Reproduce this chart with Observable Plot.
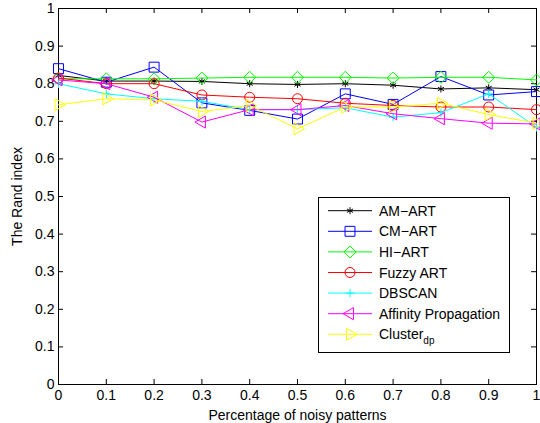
<!DOCTYPE html>
<html><head><meta charset="utf-8">
<script src="https://cdn.jsdelivr.net/npm/d3@7"></script>
<script src="https://cdn.jsdelivr.net/npm/@observablehq/plot@0.6"></script>
<style>
body{margin:0;background:#fff}
svg{font-family:"Liberation Sans",Arial,sans-serif}
</style>
</head><body><div id="chart"></div>
<script>
const noise = [0, 0.1, 0.2, 0.3, 0.4, 0.5, 0.6, 0.7, 0.8, 0.9, 1];
const amArt    = [0.822, 0.807, 0.807, 0.806, 0.800, 0.798, 0.800, 0.796, 0.786, 0.789, 0.784];
const cmArt    = [0.840, 0.804, 0.844, 0.749, 0.729, 0.706, 0.773, 0.745, 0.819, 0.770, 0.779];
const hiArt    = [0.813, 0.813, 0.813, 0.815, 0.817, 0.817, 0.817, 0.815, 0.817, 0.817, 0.810];
const fuzzyArt = [0.815, 0.800, 0.800, 0.770, 0.764, 0.760, 0.748, 0.742, 0.738, 0.738, 0.731];
const dbscan   = [0.800, 0.773, 0.760, 0.753, 0.731, 0.731, 0.736, 0.711, 0.723, 0.773, 0.684];
const affinity = [0.810, 0.800, 0.764, 0.698, 0.731, 0.731, 0.742, 0.720, 0.707, 0.695, 0.693];
const clusterDp= [0.744, 0.760, 0.757, 0.726, 0.742, 0.680, 0.738, 0.738, 0.748, 0.718, 0.695];

const seriesNames   = ["AM−ART", "CM−ART", "HI−ART", "Fuzzy ART", "DBSCAN", "Affinity Propagation", "Cluster"];
const seriesValues  = [amArt, cmArt, hiArt, fuzzyArt, dbscan, affinity, clusterDp];
const seriesColors  = ["#000000", "#0000ff", "#00ff00", "#ff0000", "#00ffff", "#ff00ff", "#ffff00"];
const seriesSymbols = ["asterisk", "square", "diamond2", "circle", "plus", "triangle", "triangle"];
const seriesRotate  = [0, 0, 0, 0, 0, -90, 90];
const seriesR       = [3.3, 5.6, 5.4, 5, 2.8, 4.5, 4.5];

const xTicks = [0, 0.1, 0.2, 0.3, 0.4, 0.5, 0.6, 0.7, 0.8, 0.9, 1];
const yTicks = [0, 0.1, 0.2, 0.3, 0.4, 0.5, 0.6, 0.7, 0.8, 0.9, 1];
const xLabel = "Percentage of noisy patterns";
const yLabel = "The Rand index";

const W = 540, H = 423;
const mL = 58, mR = 4, mT = 8, mB = 39;
const innerW = W - mL - mR, innerH = H - mT - mB;
const tk = 5;
const fs = 14;

const marks = [
  Plot.frame({stroke: "#000", strokeWidth: 1}),
  Plot.ruleX(xTicks, {x: d => d, insetTop: innerH - tk, stroke: "#000"}),
  Plot.ruleX(xTicks, {x: d => d, insetBottom: innerH - tk, stroke: "#000"}),
  Plot.ruleY(yTicks, {y: d => d, insetRight: innerW - tk, stroke: "#000"}),
  Plot.ruleY(yTicks, {y: d => d, insetLeft: innerW - tk, stroke: "#000"}),
  Plot.axisX(xTicks, {tickSize: 0, tickPadding: 6, tickFormat: d => String(d), fontSize: fs, fill: "#000",
    label: xLabel, labelAnchor: "center", labelOffset: 35, labelArrow: false}),
  Plot.axisY(yTicks, {tickSize: 0, tickPadding: 4, tickFormat: d => String(d), fontSize: fs, fill: "#000",
    label: yLabel, labelAnchor: "center", labelOffset: 46, labelArrow: false})
];

seriesValues.forEach((vals, i) => {
  const data = noise.map((x, j) => ({x, y: vals[j]}));
  marks.push(Plot.line(data, {x: "x", y: "y", stroke: seriesColors[i], strokeWidth: 1}));
  marks.push(Plot.dot(data, {x: "x", y: "y", symbol: seriesSymbols[i], r: seriesR[i],
    stroke: seriesColors[i], fill: "none", strokeWidth: 1, rotate: seriesRotate[i]}));
});

const plot = Plot.plot({
  width: W, height: H,
  marginLeft: mL, marginRight: mR, marginTop: mT, marginBottom: mB,
  style: {fontFamily: '"Liberation Sans", Arial, sans-serif', fontSize: fs + "px", background: "#fff", color: "#000"},
  x: {domain: [0, 1]},
  y: {domain: [0, 1]},
  marks
});
document.getElementById("chart").appendChild(plot);

// legend
const svg = d3.select(plot);
const lg = {x: 318, y: 197, w: 191, h: 155, rowH: 20.6, first: 13.7};
const g = svg.append("g").attr("text-anchor", "start");
g.append("rect").attr("x", lg.x + 0.5).attr("y", lg.y + 0.5).attr("width", lg.w).attr("height", lg.h)
  .attr("fill", "#fff").attr("stroke", "#000");
const symMap = {asterisk: d3.symbolAsterisk, square: d3.symbolSquare, diamond2: d3.symbolDiamond2,
  circle: d3.symbolCircle, plus: d3.symbolPlus, triangle: d3.symbolTriangle};
seriesNames.forEach((name, i) => {
  const cy = lg.y + lg.first + i * lg.rowH;
  g.append("line").attr("x1", lg.x + 10).attr("x2", lg.x + 54).attr("y1", cy).attr("y2", cy)
    .attr("stroke", seriesColors[i]);
  g.append("path").attr("d", d3.symbol(symMap[seriesSymbols[i]], Math.PI * seriesR[i] * seriesR[i])())
    .attr("transform", `translate(${lg.x + 32},${cy}) rotate(${seriesRotate[i]})`)
    .attr("fill", "none").attr("stroke", seriesColors[i]);
  const t = g.append("text").attr("x", lg.x + 61).attr("y", cy).attr("dy", "0.36em")
    .attr("font-size", fs).attr("fill", "#000").attr("text-anchor", "start").text(name);
  if (i === 6) t.append("tspan").attr("font-size", 10).attr("dy", "5").text("dp");
});
</script></body></html>
